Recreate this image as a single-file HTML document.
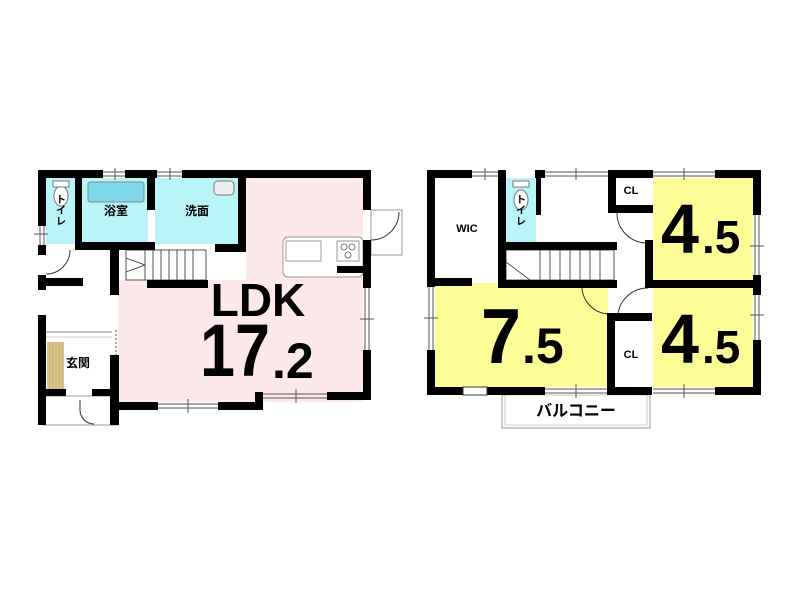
<!DOCTYPE html>
<html><head><meta charset="utf-8"><style>
html,body{margin:0;padding:0;background:#fff;}
svg{display:block;}
text{font-family:"Liberation Sans","Noto Sans CJK JP",sans-serif;font-weight:bold;fill:#000;}
</style></head><body>
<svg width="800" height="596" viewBox="0 0 800 596" xmlns="http://www.w3.org/2000/svg">
<rect width="800" height="596" fill="#fff"/>
<!-- ============ LEFT PLAN ============ -->
<!-- fills -->
<rect x="118" y="178" width="245" height="224" fill="#fde8ea"/>
<rect x="118" y="178" width="128" height="102" fill="#fff"/>
<rect x="46" y="178" width="30" height="66" fill="#b8f4f8"/>
<rect x="82" y="178" width="66" height="66" fill="#b8f4f8"/>
<rect x="155" y="178" width="84" height="66" fill="#b8f4f8"/>
<rect x="47" y="342" width="17" height="47" fill="#dcc68c"/>
<g stroke="#b79d5a" stroke-width="0.6"><line x1="50" y1="342" x2="50" y2="389"/><line x1="53" y1="342" x2="53" y2="389"/><line x1="56" y1="342" x2="56" y2="389"/><line x1="59" y1="342" x2="59" y2="389"/><line x1="62" y1="342" x2="62" y2="389"/></g>
<!-- bath tub -->
<rect x="88" y="182" width="56" height="20" rx="2" fill="#7fd8ea" stroke="#888" stroke-width="1"/>
<!-- toilet -->
<ellipse cx="61" cy="196" rx="7" ry="10" fill="#fff" stroke="#777"/>
<rect x="53" y="181" width="16" height="6" fill="#fff" stroke="#777"/>
<!-- sink -->
<rect x="214" y="181" width="20" height="14" rx="4" fill="#eee" stroke="#777"/>
<!-- kitchen -->
<rect x="283" y="237" width="80" height="40" rx="5" fill="#fff" stroke="#999"/>
<rect x="286" y="241" width="35" height="20" fill="#fff" stroke="#999"/>
<rect x="337" y="241" width="22" height="20" fill="#fff" stroke="#999"/>
<circle cx="344" cy="247" r="3" fill="none" stroke="#777"/><circle cx="352" cy="247" r="3" fill="none" stroke="#777"/><circle cx="348" cy="255" r="3" fill="none" stroke="#777"/>
<!-- stairs -->
<g stroke="#555" stroke-width="1" fill="none">
<rect x="126" y="250" width="80" height="30"/>
<line x1="145" y1="250" x2="145" y2="280"/><line x1="153" y1="250" x2="153" y2="280"/><line x1="161" y1="250" x2="161" y2="280"/><line x1="169" y1="250" x2="169" y2="280"/><line x1="177" y1="250" x2="177" y2="280"/><line x1="185" y1="250" x2="185" y2="280"/><line x1="193" y1="250" x2="193" y2="280"/>
<line x1="126" y1="258" x2="145" y2="265"/><line x1="126" y1="272" x2="145" y2="265"/>
</g>
<!-- exterior door box -->
<rect x="371" y="210" width="31" height="45" fill="#fff" stroke="#999"/>
<path d="M371 240 A28 28 0 0 0 399 212" fill="none" stroke="#333"/>
<!-- porch -->
<rect x="43" y="396" width="75" height="29" fill="#fff" stroke="#999"/>
<!-- genkan lines -->
<line x1="46" y1="332" x2="112" y2="332" stroke="#888"/>
<line x1="46" y1="337" x2="112" y2="337" stroke="#ccc"/>
<!-- door arcs -->
<path d="M46 274 A24 24 0 0 0 70 250" fill="none" stroke="#333"/>
<path d="M80 400 L80 410 M80 410 A14 14 0 0 0 94 424" fill="none" stroke="#333"/>
<!-- walls -->
<g fill="#000">
<rect x="38" y="170" width="65" height="8"/><rect x="125" y="170" width="32" height="8"/><rect x="182" y="170" width="189" height="8"/>
<rect x="38" y="170" width="8" height="56"/><rect x="38" y="245" width="8" height="10"/><rect x="38" y="275" width="8" height="15"/><rect x="38" y="315" width="8" height="110"/>
<rect x="363" y="170" width="8" height="40"/><rect x="363" y="240" width="8" height="48"/><rect x="363" y="350" width="8" height="50"/>
<rect x="327" y="392" width="44" height="8"/>
<rect x="255" y="392" width="8" height="18"/>
<rect x="218" y="402" width="45" height="8"/>
<rect x="118" y="402" width="40" height="8"/>
<rect x="110" y="250" width="9" height="45"/><rect x="110" y="355" width="9" height="70"/>
<rect x="75" y="170" width="7" height="80"/>
<rect x="147" y="170" width="8" height="40"/>
<rect x="238" y="170" width="8" height="82"/>
<rect x="75" y="242" width="80" height="8"/><rect x="215" y="244" width="31" height="8"/>
<rect x="147" y="280" width="61" height="8"/>
<rect x="46" y="278" width="37" height="8"/>
<rect x="337" y="266" width="26" height="7"/>
<rect x="46" y="389" width="20" height="7"/><rect x="92" y="389" width="26" height="7"/>
</g>
<!-- window ticks -->
<g stroke="#555" stroke-width="1">
<line x1="103" y1="172" x2="125" y2="172"/><line x1="103" y1="176" x2="125" y2="176"/><line x1="115" y1="168" x2="115" y2="180"/>
<line x1="157" y1="172" x2="182" y2="172"/><line x1="157" y1="176" x2="182" y2="176"/><line x1="170" y1="168" x2="170" y2="180"/>
<line x1="365" y1="288" x2="365" y2="350"/><line x1="369" y1="288" x2="369" y2="350"/><line x1="360" y1="319" x2="374" y2="319"/>
<line x1="263" y1="394" x2="327" y2="394"/><line x1="263" y1="398" x2="327" y2="398"/><line x1="296" y1="389" x2="296" y2="403"/>
<line x1="158" y1="404" x2="218" y2="404"/><line x1="158" y1="408" x2="218" y2="408"/><line x1="188" y1="399" x2="188" y2="413"/>
<line x1="40" y1="226" x2="40" y2="245"/><line x1="44" y1="226" x2="44" y2="245"/><line x1="34" y1="234" x2="48" y2="234"/>
<line x1="116" y1="330" x2="116" y2="355" stroke-dasharray="2,2"/>
</g>
<text x="258" y="316" font-size="46" text-anchor="middle">LDK</text>
<text x="200" y="376" font-size="74" textLength="70" lengthAdjust="spacingAndGlyphs">17</text>
<text x="272" y="378" font-size="50">.2</text>
<text x="116" y="215" font-size="12" text-anchor="middle">浴室</text>
<text x="197" y="215" font-size="12" text-anchor="middle">洗面</text>
<text x="78" y="367" font-size="12" text-anchor="middle">玄関</text>
<text x="61" y="203" font-size="10" text-anchor="middle">ト</text>
<text x="61" y="214" font-size="10" text-anchor="middle">イ</text>
<text x="61" y="225" font-size="10" text-anchor="middle">レ</text>

<!-- ============ RIGHT PLAN ============ -->
<rect x="653" y="178" width="100" height="102" fill="#fcfd96"/>
<rect x="653" y="288" width="100" height="99" fill="#fcfd96"/>
<rect x="435" y="283" width="173" height="104" fill="#fcfd96"/>
<rect x="506" y="178" width="30" height="64" fill="#b8f4f8"/>
<ellipse cx="521" cy="200" rx="7" ry="10" fill="#fff" stroke="#777"/>
<rect x="513" y="181" width="16" height="6" fill="#fff" stroke="#777"/>
<!-- stairs -->
<g stroke="#555" stroke-width="1" fill="none">
<rect x="506" y="250" width="108" height="30"/>
<line x1="540" y1="250" x2="540" y2="280"/><line x1="550" y1="250" x2="550" y2="280"/><line x1="560" y1="250" x2="560" y2="280"/><line x1="570" y1="250" x2="570" y2="280"/><line x1="580" y1="250" x2="580" y2="280"/><line x1="590" y1="250" x2="590" y2="280"/><line x1="600" y1="250" x2="600" y2="280"/>
<line x1="506" y1="262" x2="530" y2="280"/>
</g>
<!-- balcony -->
<rect x="502" y="395" width="148" height="33" fill="#fff" stroke="#999"/>
<rect x="505" y="395" width="142" height="30" fill="none" stroke="#ccc"/>
<!-- door arcs -->
<path d="M617 213 A30 30 0 0 0 647 243" fill="none" stroke="#333"/>
<path d="M582 288 A28 28 0 0 0 608 314" fill="none" stroke="#333"/>
<path d="M618 314 A30 30 0 0 1 648 288" fill="none" stroke="#333"/>
<g fill="#000">
<rect x="427" y="170" width="45" height="8"/><rect x="498" y="170" width="8" height="8"/><rect x="535" y="170" width="10" height="8"/><rect x="608" y="170" width="45" height="8"/><rect x="715" y="170" width="46" height="8"/>
<rect x="427" y="170" width="8" height="117"/><rect x="427" y="350" width="8" height="45"/>
<rect x="753" y="170" width="8" height="45"/><rect x="753" y="275" width="8" height="20"/><rect x="753" y="340" width="8" height="55"/>
<rect x="427" y="387" width="36" height="8"/><rect x="487" y="387" width="58" height="8"/><rect x="607" y="387" width="45" height="8"/><rect x="715" y="387" width="46" height="8"/>
<rect x="498" y="170" width="8" height="118"/>
<rect x="435" y="278" width="37" height="8"/>
<rect x="536" y="170" width="5" height="45"/>
<rect x="506" y="242" width="111" height="8"/>
<rect x="498" y="280" width="119" height="8"/>
<rect x="608" y="170" width="8" height="43"/><rect x="608" y="205" width="45" height="8"/>
<rect x="645" y="240" width="8" height="48"/><rect x="645" y="280" width="116" height="8"/>
<rect x="607" y="313" width="45" height="8"/><rect x="607" y="313" width="8" height="82"/>
</g>
<rect x="463" y="387" width="24" height="8" fill="#fff" stroke="#333"/>
<g stroke="#555" stroke-width="1">
<line x1="472" y1="172" x2="498" y2="172"/><line x1="472" y1="176" x2="498" y2="176"/><line x1="485" y1="168" x2="485" y2="180"/>
<line x1="545" y1="172" x2="608" y2="172"/><line x1="545" y1="176" x2="608" y2="176"/><line x1="576" y1="168" x2="576" y2="180"/>
<line x1="653" y1="172" x2="715" y2="172"/><line x1="653" y1="176" x2="715" y2="176"/><line x1="684" y1="168" x2="684" y2="180"/>
<line x1="545" y1="389" x2="607" y2="389"/><line x1="545" y1="393" x2="607" y2="393"/><line x1="576" y1="384" x2="576" y2="398"/>
<line x1="653" y1="389" x2="715" y2="389"/><line x1="653" y1="393" x2="715" y2="393"/><line x1="684" y1="384" x2="684" y2="398"/>
<line x1="429" y1="287" x2="429" y2="350"/><line x1="433" y1="287" x2="433" y2="350"/><line x1="424" y1="318" x2="438" y2="318"/>
<line x1="755" y1="215" x2="755" y2="275"/><line x1="759" y1="215" x2="759" y2="275"/><line x1="750" y1="246" x2="764" y2="246"/>
<line x1="755" y1="295" x2="755" y2="340"/><line x1="759" y1="295" x2="759" y2="340"/><line x1="750" y1="315" x2="764" y2="315"/>
</g>
<text x="467" y="232" font-size="11" text-anchor="middle">WIC</text>
<text x="631" y="194" font-size="11" text-anchor="middle">CL</text>
<text x="631" y="358" font-size="11" text-anchor="middle">CL</text>
<text x="521" y="203" font-size="10" text-anchor="middle">ト</text>
<text x="521" y="214" font-size="10" text-anchor="middle">イ</text>
<text x="521" y="225" font-size="10" text-anchor="middle">レ</text>
<text x="576" y="416" font-size="16" text-anchor="middle">バルコニー</text>
<text x="661" y="253" font-size="70" textLength="38" lengthAdjust="spacingAndGlyphs">4</text>
<text x="702" y="253" font-size="46">.5</text>
<text x="661" y="363" font-size="70" textLength="38" lengthAdjust="spacingAndGlyphs">4</text>
<text x="702" y="363" font-size="46">.5</text>
<text x="481" y="363" font-size="78" textLength="40" lengthAdjust="spacingAndGlyphs">7</text>
<text x="522" y="363" font-size="50">.5</text>
</svg>
</body></html>
